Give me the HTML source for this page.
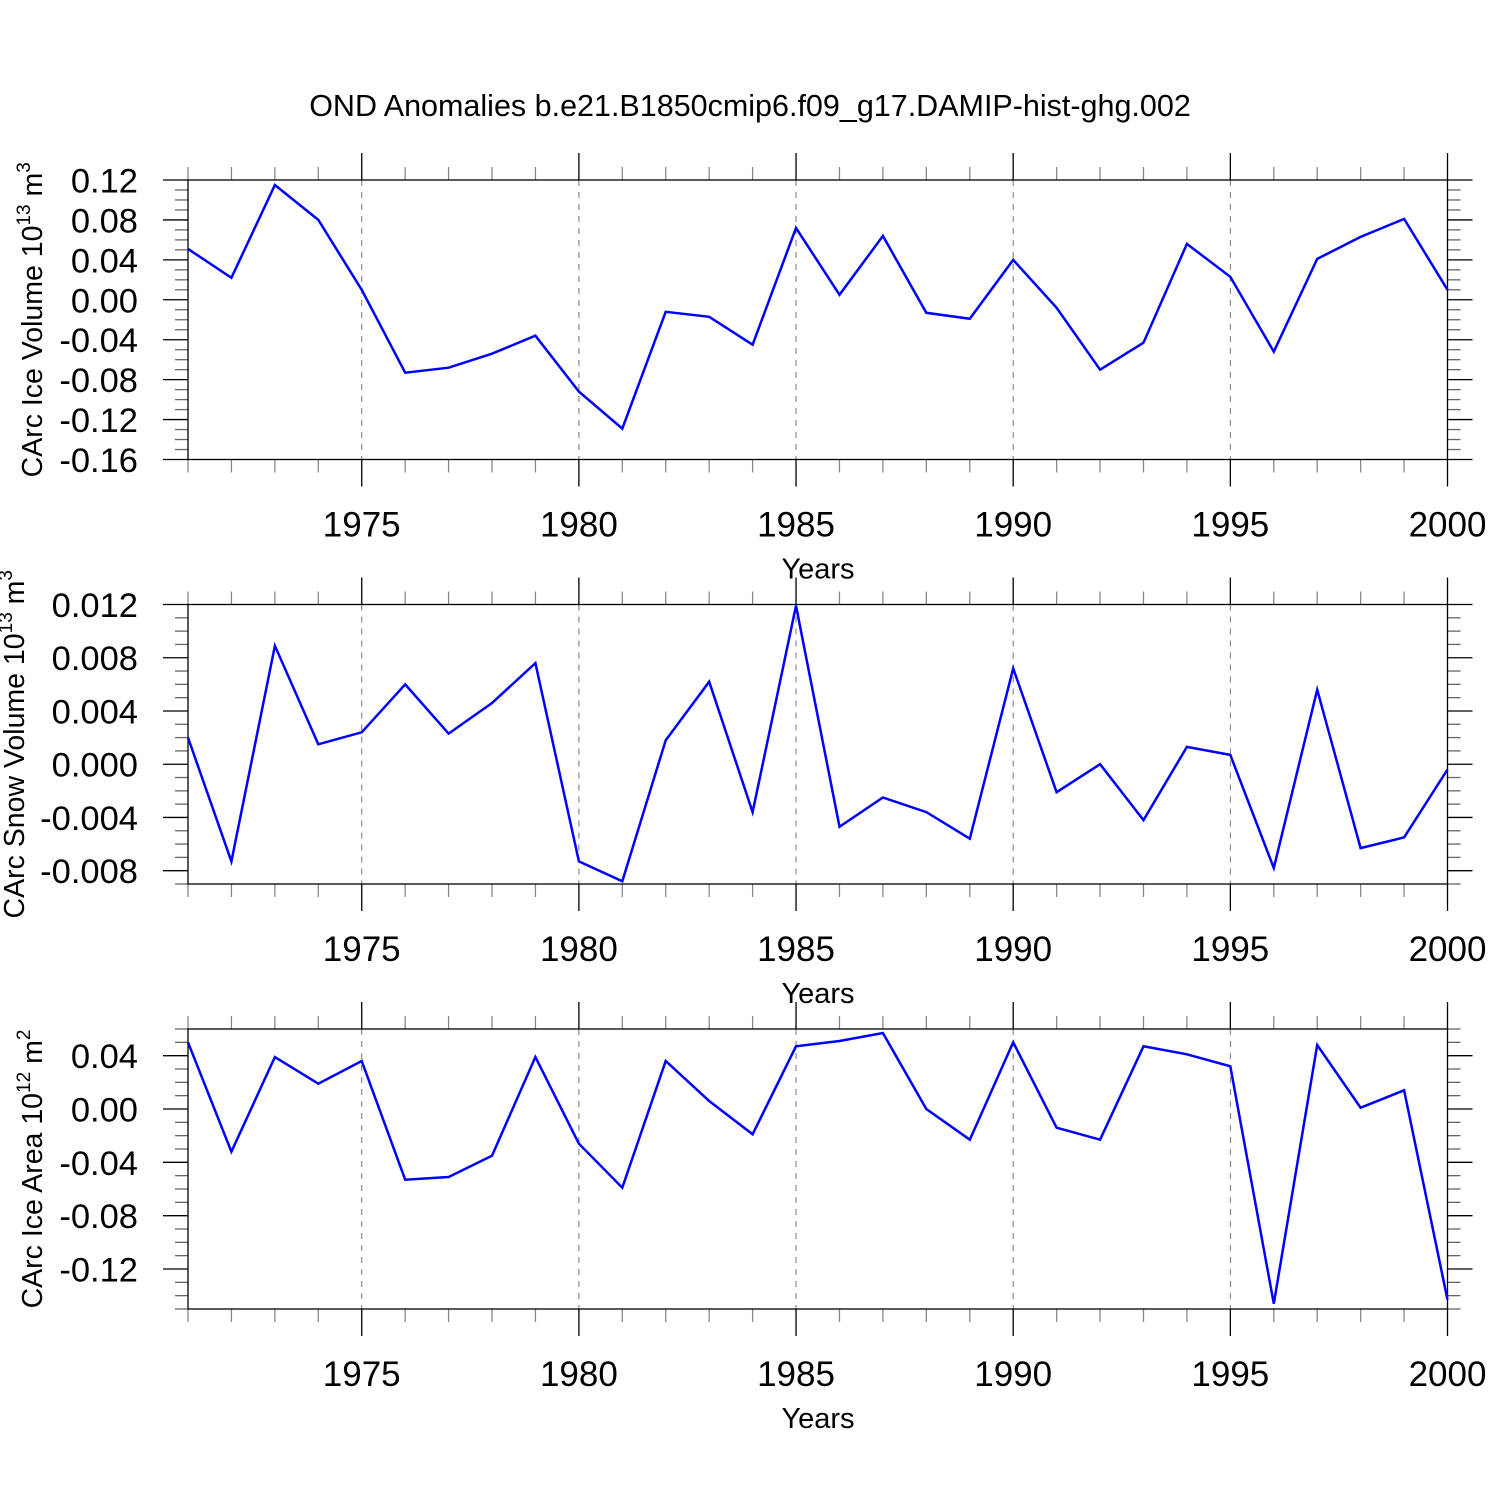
<!DOCTYPE html>
<html><head><meta charset="utf-8">
<style>
html,body{margin:0;padding:0;background:#fff;}
svg{display:block;font-family:"Liberation Sans",Arial,sans-serif;}
</style></head>
<body>
<svg id="chart" width="1500" height="1500" viewBox="0 0 1500 1500">
<text x="750" y="116" text-anchor="middle" font-size="30.5">OND Anomalies b.e21.B1850cmip6.f09_g17.DAMIP-hist-ghg.002</text>
</svg>
<script>
const years = [1971,1972,1973,1974,1975,1976,1977,1978,1979,1980,1981,1982,1983,1984,1985,1986,1987,1988,1989,1990,1991,1992,1993,1994,1995,1996,1997,1998,1999,2000];
const xTickLabels = [1975,1980,1985,1990,1995,2000];
const iceVolume = [0.051,0.022,0.115,0.080,0.010,-0.073,-0.068,-0.054,-0.036,-0.092,-0.129,-0.012,-0.017,-0.045,0.072,0.005,0.064,-0.013,-0.019,0.040,-0.008,-0.070,-0.043,0.056,0.023,-0.052,0.041,0.063,0.081,0.010];
const snowVolume = [0.0020,-0.0073,0.0089,0.0015,0.0024,0.0060,0.0023,0.0046,0.0076,-0.0073,-0.0088,0.0018,0.0062,-0.0036,0.0119,-0.0047,-0.0025,-0.0036,-0.0056,0.0072,-0.0021,0.0000,-0.0042,0.0013,0.0007,-0.0078,0.0056,-0.0063,-0.0055,-0.0004];
const iceArea = [0.050,-0.032,0.039,0.019,0.036,-0.053,-0.051,-0.035,0.039,-0.026,-0.059,0.036,0.006,-0.019,0.047,0.051,0.057,0.000,-0.023,0.050,-0.014,-0.023,0.047,0.041,0.032,-0.146,0.048,0.001,0.014,-0.143];
const iceVolumeTicks = ["0.12","0.08","0.04","0.00","-0.04","-0.08","-0.12","-0.16"];
const snowVolumeTicks = ["0.012","0.008","0.004","0.000","-0.004","-0.008"];
const iceAreaTicks = ["0.04","0.00","-0.04","-0.08","-0.12"];

const NS = "http://www.w3.org/2000/svg";
const svg = document.getElementById('chart');
const X0 = 188, X1 = 1447.5;
function xScale(yr){ return X0 + (yr - 1971) / (2000 - 1971) * (X1 - X0); }
function mk(tag, attrs, parent){
  const e = document.createElementNS(NS, tag);
  for (const k in attrs) e.setAttribute(k, attrs[k]);
  (parent || svg).appendChild(e);
  return e;
}

const panels = [
  {name:'ice-volume', top:180, bot:459.5, ymax:0.12, ymin:-0.16, minor:0.01, data:iceVolume, ticks:iceVolumeTicks, title:'CArc Ice Volume 10', sup:'13', unit:' m', usup:'3', tx:32},
  {name:'snow-volume', top:604.5, bot:884, ymax:0.012, ymin:-0.009, minor:0.001, data:snowVolume, ticks:snowVolumeTicks, title:'CArc Snow Volume 10', sup:'13', unit:' m', usup:'3', tx:14},
  {name:'ice-area', top:1029, bot:1309, ymax:0.06, ymin:-0.15, minor:0.01, data:iceArea, ticks:iceAreaTicks, title:'CArc Ice Area 10', sup:'12', unit:' m', usup:'2', tx:32}
];

panels.forEach(p => {
  const g = mk('g', {});
  
  
  const yScale = v => p.top + (p.ymax - v) / (p.ymax - p.ymin) * (p.bot - p.top);
  xTickLabels.forEach(yr => {
    if (yr === 2000) return;
    const l = mk('line', {x1:xScale(yr), x2:xScale(yr), y1:p.top, y2:p.bot, stroke:'#777', 'stroke-width':1, 'stroke-dasharray':'6,6'}, g);
    
    
  });
  const n = Math.round((p.ymax - p.ymin) / p.minor);
  for (let i = 0; i <= n; i++) {
    const v = p.ymax - i * p.minor;
    const y = yScale(v);
    const isMaj = p.ticks.some(t => Math.abs(parseFloat(t) - v) < p.minor / 10);
    const len = isMaj ? 25 : 13;
    mk('line', {x1:X0 - len, x2:X0, y1:y, y2:y, stroke: isMaj ? '#000' : '#666', 'stroke-width':1.3}, g);
    mk('line', {x1:X1, x2:X1 + len, y1:y, y2:y, stroke: isMaj ? '#000' : '#666', 'stroke-width':1.3}, g);
  }
  p.ticks.forEach(t => {
    const tx = mk('text', {x:138, y:yScale(parseFloat(t)) + 12.5, 'text-anchor':'end', 'font-size':34.5}, g);
    tx.textContent = t;
    
    
  });
  years.forEach(yr => {
    const x = xScale(yr);
    const isMaj = yr % 5 === 0;
    const len = isMaj ? 27 : 13;
    mk('line', {x1:x, x2:x, y1:p.top - len, y2:p.top, stroke: isMaj ? '#000' : '#888', 'stroke-width':1.3}, g);
    mk('line', {x1:x, x2:x, y1:p.bot, y2:p.bot + len, stroke: isMaj ? '#000' : '#888', 'stroke-width':1.3}, g);
  });
  xTickLabels.forEach(yr => {
    const tx = mk('text', {x:xScale(yr), y:p.bot + 77, 'text-anchor':'middle', 'font-size':35}, g);
    tx.textContent = yr;
    
    
  });
  const box = mk('rect', {x:X0, y:p.top, width:X1 - X0, height:p.bot - p.top, fill:'none', stroke:'#000', 'stroke-width':1.3}, g);
  
  
  const xt = mk('text', {x:818, y:p.bot + 119, 'text-anchor':'middle', 'font-size':29}, g);
  xt.textContent = 'Years';
  
  
  const cy = (p.top + p.bot) / 2;
  const yt = mk('text', {x:0, y:0, 'text-anchor':'middle', 'font-size':28.5, transform:`translate(${p.tx + 10},${cy}) rotate(-90)`}, g);
  
  
  const s1 = mk('tspan', {}, yt); s1.textContent = p.title;
  const s2 = mk('tspan', {dy:-12, 'font-size':19}, yt); s2.textContent = p.sup;
  const s3 = mk('tspan', {dy:12}, yt); s3.textContent = p.unit;
  const s4 = mk('tspan', {dy:-12, 'font-size':19}, yt); s4.textContent = p.usup;
  const pts = p.data.map((v, i) => xScale(years[i]).toFixed(1) + ',' + yScale(v).toFixed(1)).join(' ');
  const line = mk('polyline', {points:pts, fill:'none', stroke:'#0000ff', 'stroke-width':2.5, 'stroke-linejoin':'miter'}, g);
  
  
});
</script>
</body></html>
